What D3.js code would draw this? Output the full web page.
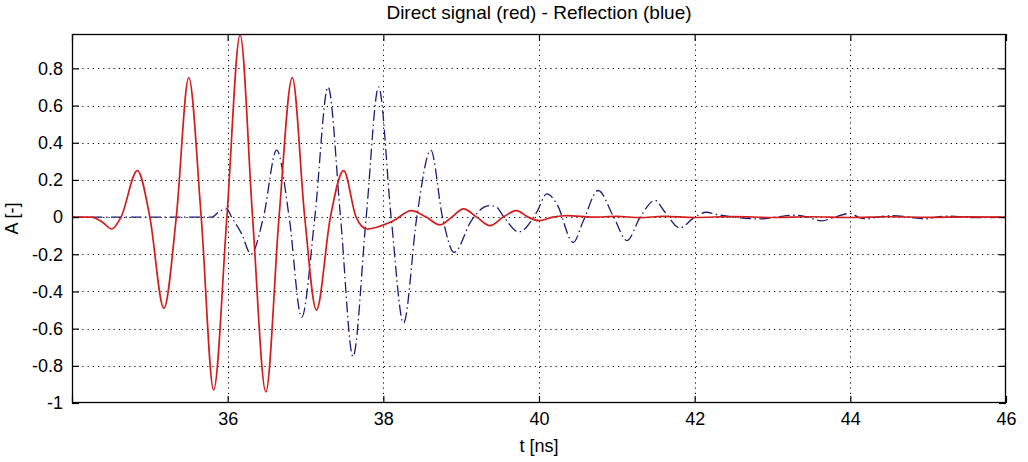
<!DOCTYPE html>
<html>
<head>
<meta charset="utf-8">
<script src="https://cdn.jsdelivr.net/npm/d3@7"></script>
<style>
  html, body { margin: 0; padding: 0; background: #ffffff; }
  svg { display: block; }
  text { font-family: "Liberation Sans", Arial, Helvetica, sans-serif; fill: #000; }
</style>
</head>
<body>
<svg id="chart" width="1028" height="462"></svg>
<script>
// ---------- data ----------
const titleText = "Direct signal (red) - Reflection (blue)";
const xLabel = "t [ns]";
const yLabel = "A [-]";

const xTickValues = [34, 36, 38, 40, 42, 44, 46];
const xTickLabels = ["", "36", "38", "40", "42", "44", "46"];
const yTickValues = [-1, -0.8, -0.6, -0.4, -0.2, 0, 0.2, 0.4, 0.6, 0.8];
const yTickLabels = ["-1", "-0.8", "-0.6", "-0.4", "-0.2", "0", "0.2", "0.4", "0.6", "0.8"];

// Direct signal (red)
const redT = [34.00, 34.25, 34.40, 34.51, 34.63, 34.84, 35.00, 35.18, 35.34, 35.50, 35.66, 35.82, 35.99,
              36.16, 36.32, 36.49, 36.66, 36.83, 36.99, 37.14, 37.32, 37.49, 37.65, 37.79, 37.95, 38.13,
              38.36, 38.55, 38.73, 38.88, 39.03, 39.20, 39.37, 39.54, 39.71, 39.86, 40.00, 40.18, 40.36,
              40.70, 41.00, 41.30, 41.60, 42.00, 42.50, 43.00, 43.50, 44.00, 44.50, 45.00, 45.50, 46.00];
const redA = [0, 0, -0.03, -0.064, 0, 0.25, 0, -0.49, 0, 0.75, 0, -0.93, 0,
              0.98, 0, -0.94, 0, 0.75, 0, -0.50, 0, 0.25, 0, -0.064, -0.05, -0.02,
              0.035, 0, -0.042, 0, 0.044, 0, -0.046, 0, 0.035, 0, -0.019, 0, 0.008,
              0, 0.004, -0.003, 0.004, -0.002, 0.003, -0.002, 0.002, -0.002, 0.002, -0.001, 0.001, 0];

// Reflection (blue)
const blueT = [34.00, 35.00, 35.80, 35.88, 35.99, 36.05, 36.18, 36.30, 36.46, 36.63, 36.79, 36.95, 37.12,
               37.29, 37.45, 37.61, 37.78, 37.94, 38.10, 38.26, 38.43, 38.61, 38.76, 38.91, 39.13, 39.30,
               39.37, 39.45, 39.55, 39.74, 39.97, 40.10, 40.23, 40.44, 40.57, 40.76, 40.96, 41.13, 41.30,
               41.49, 41.62, 41.81, 42.00, 42.15, 42.28, 42.50, 42.84, 43.05, 43.27, 43.45, 43.63, 43.80,
               44.00, 44.10, 44.20, 44.35, 44.55, 44.75, 44.98, 45.10, 45.24, 45.60, 46.00];
const blueA = [0, 0, 0, 0.026, 0.044, 0, -0.09, -0.20, 0, 0.36, 0, -0.54, 0,
               0.70, 0, -0.75, 0, 0.70, 0, -0.57, 0, 0.36, 0, -0.19, -0.02, 0.055,
               0.062, 0.055, 0, -0.08, 0.026, 0.125, 0.07, -0.136, -0.02, 0.143, 0, -0.126, 0,
               0.09, 0.026, -0.058, 0, 0.026, 0.014, 0, -0.01, 0, 0.01, 0, -0.02, 0,
               0.02, 0, -0.01, 0, 0.008, 0, -0.01, 0, 0.005, -0.003, 0];

// ---------- layout ----------
const svg = d3.select("#chart");
const W = 1028, H = 462;
const margin = { left: 72, right: W - 1006, top: 34, bottom: H - 403 };
const x = d3.scaleLinear().domain([34, 46]).range([margin.left, W - margin.right]);
const y = d3.scaleLinear().domain([-1, 0.985]).range([H - margin.bottom, margin.top]);

svg.append("rect").attr("width", W).attr("height", H).attr("fill", "#fff");

const x0 = x.range()[0], x1 = x.range()[1], y0 = y.range()[0], y1 = y.range()[1];

// grid
const grid = svg.append("g").attr("stroke", "#000").attr("stroke-width", 1)
  .attr("stroke-dasharray", "1.2,4").attr("fill", "none");
grid.selectAll("line.vx").data(xTickValues.filter(v => v > 34 && v < 46)).join("line")
  .attr("x1", d => Math.round(x(d)) + 0.5).attr("x2", d => Math.round(x(d)) + 0.5)
  .attr("y1", y1).attr("y2", y0);
grid.selectAll("line.hy").data(yTickValues.filter(v => v > -1)).join("line")
  .attr("y1", d => Math.round(y(d)) + 0.5).attr("y2", d => Math.round(y(d)) + 0.5)
  .attr("x1", x0).attr("x2", x1);

// clip
svg.append("clipPath").attr("id", "clip").append("rect")
  .attr("x", x0).attr("y", y1).attr("width", x1 - x0).attr("height", y0 - y1);

const line = d3.line().curve(d3.curveMonotoneX).x(d => x(d[0])).y(d => y(d[1]));

const plot = svg.append("g").attr("clip-path", "url(#clip)");
plot.append("path").datum(blueT.map((t, i) => [t, blueA[i]]))
  .attr("d", line).attr("fill", "none").attr("stroke", "#1c1c78")
  .attr("stroke-width", 1.3).attr("stroke-dasharray", "11,3.5,1.5,3.5");
plot.append("path").datum(redT.map((t, i) => [t, redA[i]]))
  .attr("d", line).attr("fill", "none").attr("stroke", "#d41c1c")
  .attr("stroke-width", 1.7);

// axes (ticks inward, MATLAB style)
const fs = 18;
const axB = d3.axisBottom(x).tickValues(xTickValues).tickSize(-7).tickPadding(9)
  .tickFormat((d, i) => xTickLabels[i]);
const axT = d3.axisTop(x).tickValues(xTickValues).tickSize(-7).tickFormat("");
const axL = d3.axisLeft(y).tickValues(yTickValues).tickSize(-7).tickPadding(9)
  .tickFormat((d, i) => yTickLabels[i]);
const axR = d3.axisRight(y).tickValues(yTickValues).tickSize(-7).tickFormat("");

function style(g) {
  g.select(".domain").remove();
  g.selectAll(".tick line").attr("stroke", "#000").attr("stroke-width", 1.2);
  g.selectAll("text").attr("font-size", fs).attr("font-family", "Liberation Sans, Arial, sans-serif").attr("fill", "#000");
}
svg.append("g").attr("transform", `translate(0,${y0})`).call(axB).call(style);
svg.append("g").attr("transform", `translate(0,${y1})`).call(axT).call(style);
svg.append("g").attr("transform", `translate(${x0},0)`).call(axL).call(style);
svg.append("g").attr("transform", `translate(${x1},0)`).call(axR).call(style);

// box
svg.append("rect").attr("x", x0 + 0.5).attr("y", y1 + 0.5)
  .attr("width", x1 - x0 - 1).attr("height", y0 - y1 - 1)
  .attr("fill", "none").attr("stroke", "#000").attr("stroke-width", 1.3);

// title + labels
svg.append("text").attr("x", (x0 + x1) / 2).attr("y", 19).attr("text-anchor", "middle")
  .attr("font-size", 19).text(titleText);
svg.append("text").attr("x", (x0 + x1) / 2).attr("y", 452).attr("text-anchor", "middle")
  .attr("font-size", 18).text(xLabel);
svg.append("text").attr("transform", `translate(18,${(y0 + y1) / 2}) rotate(-90)`)
  .attr("text-anchor", "middle").attr("font-size", 18).text(yLabel);
</script>
</body>
</html>
